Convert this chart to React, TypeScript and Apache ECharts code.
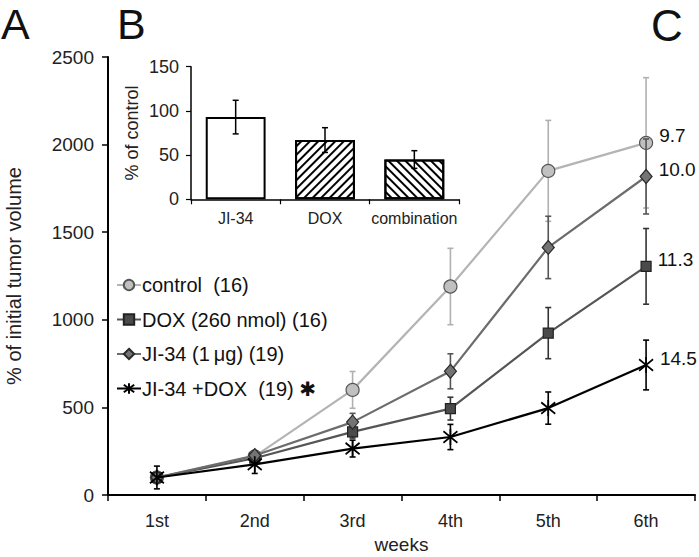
import React, { useEffect, useRef } from "react";
import * as echarts from "echarts";

const weeks = ["1st", "2nd", "3rd", "4th", "5th", "6th"];
const control = [100, 220, 600, 1190, 1850, 2010];
const controlErr = [30, 25, 105, 218, 288, 372];
const dox = [100, 210, 360, 493, 924, 1305];
const doxErr = [30, 25, 35, 65, 146, 216];
const ji34 = [100, 225, 416, 706, 1413, 1818];
const ji34Err = [30, 25, 50, 100, 178, 214];
const combo = [100, 175, 265, 331, 496, 742];
const comboErr = [65, 52, 48, 72, 92, 142];
const endLabels = ["9.7", "11.3", "10.0", "14.5"];
const seriesNames = ["control  (16)", "DOX (260 nmol) (16)", "JI-34 (1\u2009\u03bcg) (19)", "JI-34 +DOX  (19)"];

const barCats = ["JI-34", "DOX", "combination"];
const barVals = [93, 67, 45];
const barErr = [19, 14, 10];

const FONT = "Liberation Sans, Arial, sans-serif";

function errRender(color: string, width: number, capW: number) {
  return (params: any, api: any) => {
    const i = api.value(0);
    const lo = api.coord([i, api.value(1)]);
    const hi = api.coord([i, api.value(2)]);
    const style = { stroke: color, lineWidth: width };
    return {
      type: "group",
      children: [
        { type: "line", shape: { x1: lo[0], y1: lo[1], x2: hi[0], y2: hi[1] }, style },
        { type: "line", shape: { x1: lo[0] - capW, y1: lo[1], x2: lo[0] + capW, y2: lo[1] }, style },
        { type: "line", shape: { x1: hi[0] - capW, y1: hi[1], x2: hi[0] + capW, y2: hi[1] }, style },
      ],
    };
  };
}

function errData(vals: number[], errs: number[]) {
  return vals.map((v, i) => [i, v - errs[i], v + errs[i]]);
}

function lineData(vals: number[], label: string) {
  return vals.map((v, i) =>
    i === vals.length - 1
      ? {
          value: v,
          label: {
            show: true,
            position: "right",
            distance: 6,
            offset: [0, -7],
            formatter: label,
            fontSize: 19,
            color: "#111",
            fontFamily: FONT,
          },
        }
      : v
  );
}

const STAR = "path://M0,0L10,10M10,0L0,10M5,-2L5,12";

export default function App() {
  const ref = useRef<HTMLDivElement>(null);
  useEffect(() => {
    if (!ref.current) return;
    const chart = echarts.init(ref.current, null, { renderer: "svg" });
    const styles = [
      { line: "#b4b4b4", fill: "#c0c0c0", border: "#555", symbol: "circle", size: 13, err: "#b0b0b0" },
      { line: "#555555", fill: "#4a4a4a", border: "#222", symbol: "rect", size: 10, err: "#333" },
      { line: "#6c6c6c", fill: "#747474", border: "#2a2a2a", symbol: "diamond", size: [12, 14], err: "#555" },
      { line: "#000000", fill: "#000", border: "#000", symbol: STAR, size: [14, 16], err: "#000" },
    ];
    const vals = [control, dox, ji34, combo];
    const errs = [controlErr, doxErr, ji34Err, comboErr];

    const lineSeries: any[] = vals.map((v, k) => ({
      type: "line",
      name: seriesNames[k],
      xAxisIndex: 0,
      yAxisIndex: 0,
      data: lineData(v, endLabels[k]),
      symbol: styles[k].symbol,
      symbolSize: styles[k].size,
      showAllSymbol: true,
      z: 3 + k,
      lineStyle: { color: styles[k].line, width: 2.2 },
      itemStyle: {
        color: styles[k].fill,
        borderColor: styles[k].border,
        borderWidth: k === 3 ? 1.8 : 1.2,
      },
      emphasis: { disabled: true },
    }));

    const errSeries: any[] = vals.map((v, k) => ({
      type: "custom",
      xAxisIndex: 0,
      yAxisIndex: 0,
      renderItem: errRender(styles[k].err, 1.6, 3),
      data: errData(v, errs[k]),
      encode: { x: 0, y: [1, 2] },
      z: k === 0 ? 1 : 2 + k,
      silent: true,
    }));

    const hatch = (rot: number) => ({
      symbol: "rect",
      symbolSize: 1,
      dashArrayX: [1, 0],
      dashArrayY: [1.3, 3.2],
      rotation: rot,
      color: "#000",
      backgroundColor: "#fff",
    });

    const option: any = {
      animation: false,
      backgroundColor: "#fff",
      textStyle: { fontFamily: FONT },
      graphic: [
        { type: "text", left: 1, top: 2, style: { text: "A", fontSize: 43, fontFamily: FONT, fill: "#111" } },
        { type: "text", left: 117, top: 2, style: { text: "B", fontSize: 43, fontFamily: FONT, fill: "#111" } },
        { type: "text", left: 651, top: 3, style: { text: "C", fontSize: 44, fontFamily: FONT, fill: "#111" } },
      ],
      legend: {
        data: seriesNames,
        orient: "vertical",
        left: 111,
        top: 270,
        itemWidth: 24,
        itemHeight: 13,
        itemGap: 14.5,
        selectedMode: false,
        formatter: (name: string) => (name === seriesNames[3] ? name + " {s|\u2731}" : name),
        textStyle: {
          fontSize: 20,
          lineHeight: 20,
          color: "#111",
          fontFamily: FONT,
          padding: [0, 0, 0, -4],
          rich: { s: { fontSize: 20, fontWeight: "bold", color: "#111", fontFamily: "DejaVu Sans" } },
        },
      },
      grid: [
        { left: 108, right: 4, top: 57, bottom: 62, containLabel: false, outerBoundsMode: "none" },
        { left: 191, right: 240, top: 66.7, bottom: 357.7, containLabel: false, outerBoundsMode: "none" },
      ],
      xAxis: [
        {
          type: "category",
          gridIndex: 0,
          data: weeks,
          name: "weeks",
          nameLocation: "middle",
          nameGap: 38,
          nameTextStyle: { fontSize: 19, color: "#222", fontFamily: FONT },
          axisLine: { lineStyle: { color: "#000", width: 2 } },
          axisTick: { show: true, length: 6, lineStyle: { color: "#000", width: 1.5 } },
          axisLabel: { fontSize: 18, color: "#222", margin: 17, fontFamily: FONT },
        },
        {
          type: "category",
          gridIndex: 1,
          data: barCats,
          axisLine: { lineStyle: { color: "#000", width: 1.5 } },
          axisTick: { show: true, length: 5, lineStyle: { color: "#000", width: 1.2 } },
          axisLabel: { fontSize: 16, color: "#222", margin: 11, fontFamily: FONT, interval: 0 },
        },
      ],
      yAxis: [
        {
          type: "value",
          gridIndex: 0,
          min: 0,
          max: 2500,
          interval: 500,
          name: "% of initial tumor volume",
          nameLocation: "middle",
          nameGap: 84,
          nameRotate: 90,
          nameTextStyle: { fontSize: 20, color: "#222", fontFamily: FONT },
          splitLine: { show: false },
          axisLine: { show: true, lineStyle: { color: "#000", width: 2 } },
          axisTick: { show: true, length: 6, lineStyle: { color: "#000", width: 1.5 } },
          axisLabel: { fontSize: 19, color: "#222", margin: 14, fontFamily: FONT, formatter: (v: number) => String(v) },
        },
        {
          type: "value",
          gridIndex: 1,
          min: 0,
          max: 150,
          interval: 50,
          name: "% of control",
          nameLocation: "middle",
          nameGap: 50,
          nameRotate: 90,
          nameTextStyle: { fontSize: 18, color: "#222", fontFamily: FONT },
          splitLine: { show: false },
          axisLine: { show: true, lineStyle: { color: "#000", width: 1.5 } },
          axisTick: { show: true, length: 5, lineStyle: { color: "#000", width: 1.2 } },
          axisLabel: { fontSize: 18, color: "#222", margin: 12, fontFamily: FONT, formatter: (v: number) => String(v) },
        },
      ],
      series: [
        ...errSeries,
        ...lineSeries,
        {
          type: "bar",
          xAxisIndex: 1,
          yAxisIndex: 1,
          barWidth: "67%",
          data: barVals.map((v, i) => ({
            value: v,
            itemStyle: {
              color: "#fff",
              borderColor: "#000",
              borderWidth: 2,
              decal: i === 0 ? null : hatch(i === 1 ? -Math.PI / 4 : Math.PI / 4),
            },
          })),
          z: 2,
          emphasis: { disabled: true },
        },
        {
          type: "custom",
          xAxisIndex: 1,
          yAxisIndex: 1,
          renderItem: errRender("#000", 1.5, 3),
          data: errData(barVals, barErr),
          encode: { x: 0, y: [1, 2] },
          z: 5,
          silent: true,
        },
      ],
    };
    chart.setOption(option);
    return () => chart.dispose();
  }, []);
  return <div ref={ref} style={{ width: 699, height: 557, position: "absolute", left: 0, top: 0 }} />;
}
